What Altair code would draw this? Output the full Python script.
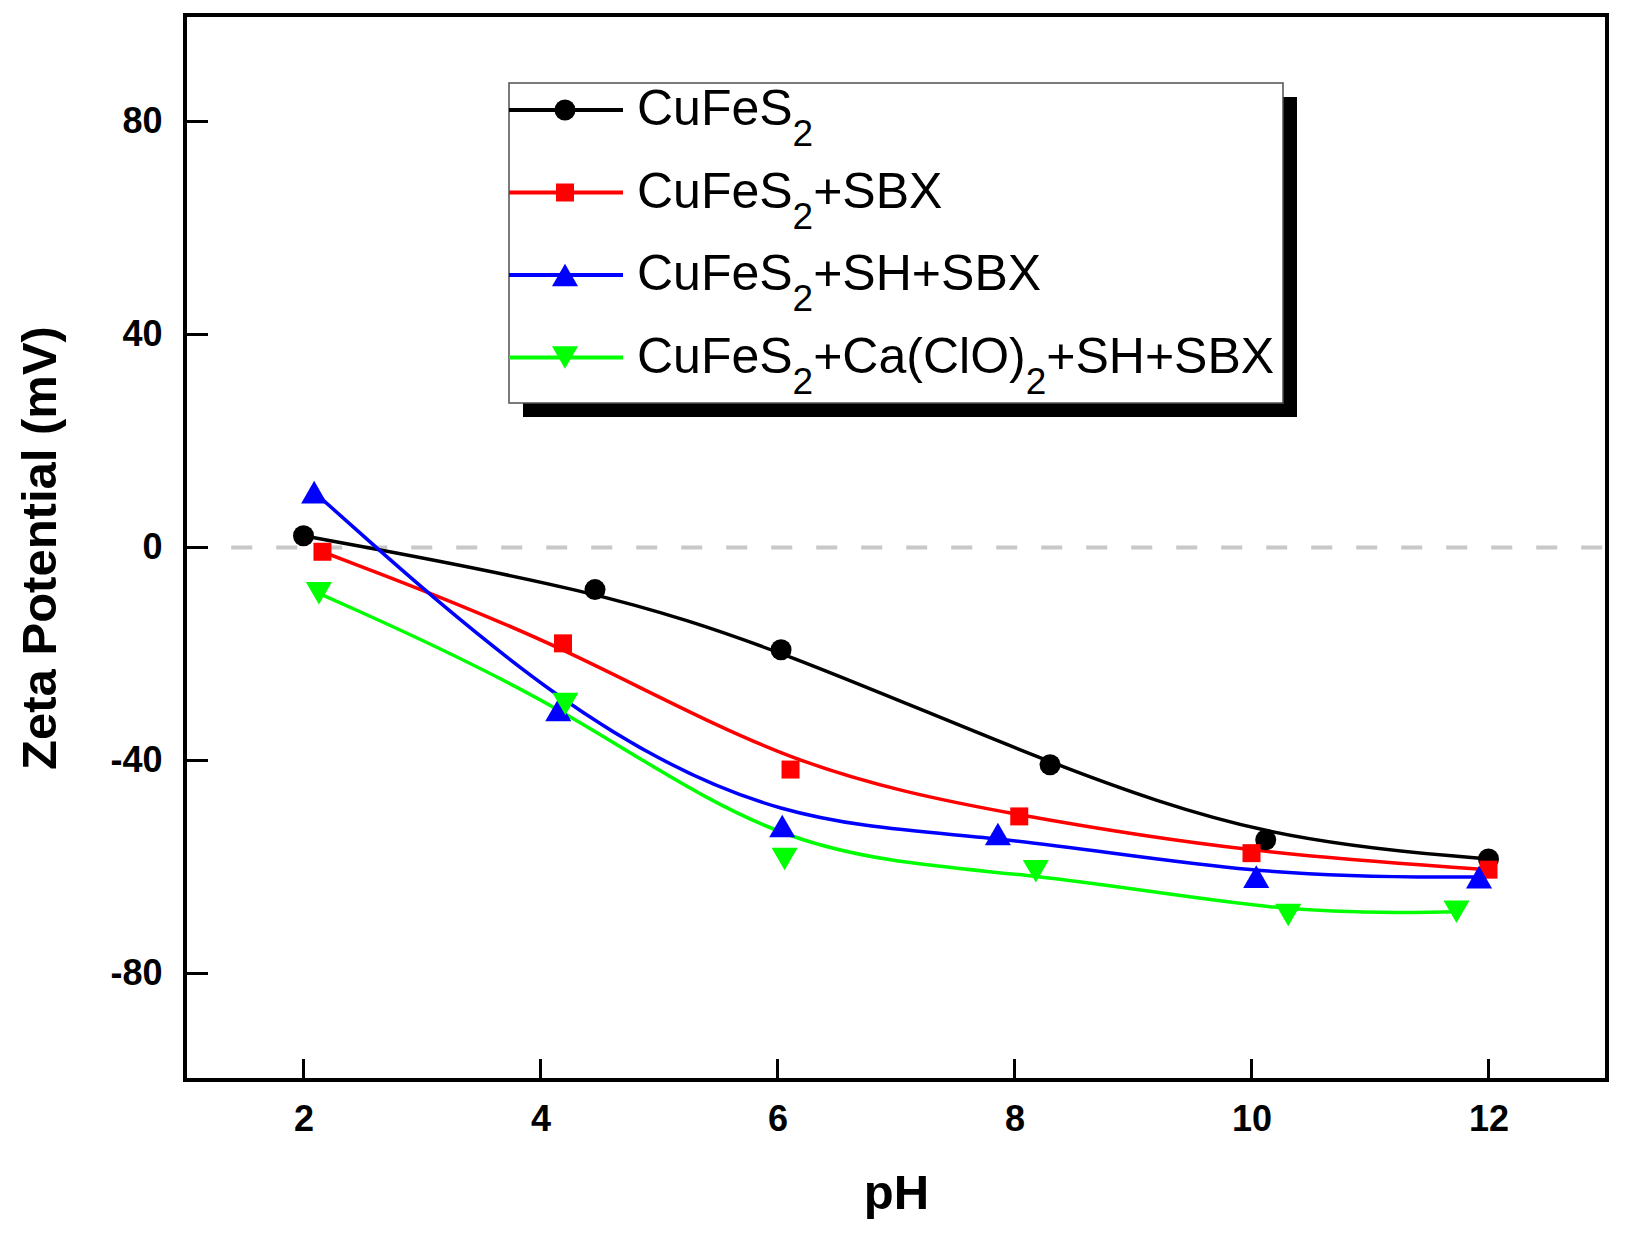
import altair as alt
import pandas as pd

# ---------------- data ----------------
series_names = ["CuFeS2", "CuFeS2+SBX", "CuFeS2+SH+SBX", "CuFeS2+Ca(ClO)2+SH+SBX"]

ph_cufes2 = [2.0, 4.46, 6.03, 8.30, 10.12, 12.0]
zeta_cufes2 = [2.2, -7.9, -19.2, -40.8, -54.9, -58.5]

ph_sbx = [2.16, 4.19, 6.11, 8.04, 10.0, 12.0]
zeta_sbx = [-0.8, -18.0, -41.7, -50.5, -57.4, -60.5]

ph_sh_sbx = [2.09, 4.15, 6.04, 7.86, 10.04, 11.92]
zeta_sh_sbx = [10.4, -30.5, -52.3, -53.8, -61.8, -61.9]

ph_ca = [2.13, 4.21, 6.06, 8.18, 10.31, 11.73]
zeta_ca = [-8.6, -29.4, -58.5, -60.8, -69.0, -68.4]

x_ticks = [2, 4, 6, 8, 10, 12]
y_ticks = [-80, -40, 0, 40, 80]

zero_line_start = 1.39
zero_line_end = 13.0

# legend label pieces: (text, is_subscript)
legend_labels = [
    [("CuFeS", 0), ("2", 1)],
    [("CuFeS", 0), ("2", 1), ("+SBX", 0)],
    [("CuFeS", 0), ("2", 1), ("+SH+SBX", 0)],
    [("CuFeS", 0), ("2", 1), ("+Ca(ClO)", 0), ("2", 1), ("+SH+SBX", 0)],
]

# ---------------- styles ----------------
colors = ["#000000", "#ff0000", "#0000ff", "#00ff00"]
shapes = ["circle", "square", "triangle-up", "triangle-down"]
sizes = [441, 324, 680, 680]
FONT = "Liberation Sans"

W, H = 1422, 1065
xscale = alt.Scale(domain=[1, 13], nice=False, zero=False)
yscale = alt.Scale(domain=[-100, 100], nice=False, zero=False)

x_axis = alt.Axis(
    values=x_ticks, title="pH", grid=False, domain=False, ticks=False, tickSize=0,
    labelFont=FONT, labelFontSize=36, labelFontWeight="bold", labelColor="black",
    labelPadding=22, labelFlush=False,
    titleFont=FONT, titleFontSize=49, titleFontWeight="bold", titleColor="black",
    titleY=128, titleBaseline="alphabetic",
)
y_axis = alt.Axis(
    values=y_ticks, title="Zeta Potential (mV)", grid=False, domain=False, ticks=False, tickSize=0,
    labelExpr="'' + datum.value",
    labelFont=FONT, labelFontSize=36, labelFontWeight="bold", labelColor="black",
    labelPadding=23,
    titleFont=FONT, titleFontSize=49, titleFontWeight="bold", titleColor="black",
    titleAngle=270, titleX=-130, titleY=H / 2, titleAlign="center", titleBaseline="alphabetic",
)


def X(field="ph"):
    return alt.X(f"{field}:Q", scale=xscale, axis=x_axis, title="pH")


def Y(field="zeta"):
    return alt.Y(f"{field}:Q", scale=yscale, axis=y_axis, title="Zeta Potential (mV)")


all_ph = [ph_cufes2, ph_sbx, ph_sh_sbx, ph_ca]
all_zeta = [zeta_cufes2, zeta_sbx, zeta_sh_sbx, zeta_ca]

rows = []
for name, phs, zs in zip(series_names, all_ph, all_zeta):
    for p, z in zip(phs, zs):
        rows.append({"series": name, "ph": p, "zeta": z})
df = pd.DataFrame(rows)

layers = []

# zero dashed line
zero_df = pd.DataFrame({"ph": [zero_line_start], "ph2": [zero_line_end], "zeta": [0]})
layers.append(
    alt.Chart(zero_df).mark_rule(color="#c8c8c8", strokeWidth=4, strokeDash=[21, 24]).encode(
        x=X(), x2="ph2:Q", y=Y()
    )
)

# smoothed curves
layers.append(
    alt.Chart(df).mark_line(interpolate="basis", strokeWidth=3.5).encode(
        x=X(),
        y=Y(),
        color=alt.Color("series:N", scale=alt.Scale(domain=series_names, range=colors), legend=None),
        detail="series:N",
    )
)

# markers
for name, col, shp, sz in zip(series_names, colors, shapes, sizes):
    layers.append(
        alt.Chart(df[df["series"] == name]).mark_point(
            shape=shp, filled=True, size=sz, color=col, opacity=1, strokeWidth=0
        ).encode(x=X(), y=Y())
    )

# inward ticks
layers.append(
    alt.Chart(pd.DataFrame({"ph": x_ticks})).mark_rule(color="black", strokeWidth=3).encode(
        x=X(), y=alt.value(H), y2=alt.value(H - 21)
    )
)
layers.append(
    alt.Chart(pd.DataFrame({"zeta": y_ticks})).mark_rule(color="black", strokeWidth=3).encode(
        y=Y(), x=alt.value(0), x2=alt.value(23)
    )
)

# ---------------- manual legend ----------------
one = pd.DataFrame({"k": [0]})
box_x0, box_x1, box_y0, box_y1 = 324, 1098, 68, 388
shadow = 14
layers.append(
    alt.Chart(one).mark_rect(color="black").encode(
        x=alt.value(box_x0 + shadow), x2=alt.value(box_x1 + shadow),
        y=alt.value(box_y0 + shadow), y2=alt.value(box_y1 + shadow),
    )
)
layers.append(
    alt.Chart(one).mark_rect(fill="white", stroke="#505050", strokeWidth=1.5).encode(
        x=alt.value(box_x0), x2=alt.value(box_x1), y=alt.value(box_y0), y2=alt.value(box_y1)
    )
)

arial = {"C": 722, "u": 556, "F": 611, "e": 556, "S": 667, "2": 556, "+": 584, "B": 667,
         "X": 667, "H": 722, "a": 556, "(": 333, "l": 222, "O": 778, ")": 333}


def tw(s, size):
    return sum(arial[c] for c in s) / 1000.0 * size


row_y = [95, 177.5, 260, 342.5]
main_size, sub_size = 50, 37
text_x0 = 452
for i, (col, shp, sz) in enumerate(zip(colors, shapes, sizes)):
    yy = row_y[i]
    layers.append(
        alt.Chart(one).mark_rule(color=col, strokeWidth=4).encode(
            x=alt.value(box_x0), x2=alt.value(438), y=alt.value(yy)
        )
    )
    layers.append(
        alt.Chart(one).mark_point(shape=shp, filled=True, size=sz, color=col, opacity=1, strokeWidth=0).encode(
            x=alt.value(380), y=alt.value(yy)
        )
    )
    cx = text_x0
    for txt, sub in legend_labels[i]:
        fs = sub_size if sub else main_size
        by = yy + (36 if sub else 15)
        layers.append(
            alt.Chart(one).mark_text(
                text=txt, font=FONT, fontSize=fs, align="left", baseline="alphabetic", color="black"
            ).encode(x=alt.value(cx), y=alt.value(by))
        )
        cx += tw(txt, fs)

chart = alt.layer(*layers).properties(
    width=W,
    height=H,
    autosize=alt.AutoSizeParams(type="none"),
    padding={"left": 177, "top": 7, "right": 14, "bottom": 150},
    background="white",
).configure_view(stroke="black", strokeWidth=4)

chart.save("out.html", embed_options={"renderer": "svg", "actions": False})
